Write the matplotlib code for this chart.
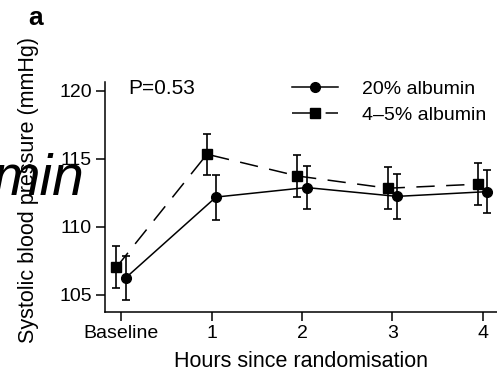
import matplotlib
matplotlib.use("Agg")
import matplotlib.pyplot as plt
from matplotlib.lines import Line2D
import numpy as np

plt.rcParams["font.family"] = ["Liberation Sans", "DejaVu Sans"]

# Time points (hours since randomisation)
hours = [0, 1, 2, 3, 4]
tick_labels = ["Baseline", "1", "2", "3", "4"]

# 20% albumin: mean and half-width of the error bars
alb20_mean = [106.25, 112.2, 112.9, 112.25, 112.6]
alb20_err = [1.6, 1.65, 1.6, 1.65, 1.6]

# 4-5% albumin
alb45_mean = [107.05, 115.35, 113.75, 112.85, 113.15]
alb45_err = [1.55, 1.5, 1.55, 1.55, 1.55]

yticks = [105, 110, 115, 120]

W, H = 497, 374
fig = plt.figure(figsize=(W / 100, H / 100), dpi=100)

# axes box in pixels: left 105, right 497, top 82, bottom 312
ax = fig.add_axes([105 / W, (H - 312) / H, (497 - 105) / W, (312 - 82) / H])

offset = 0.05
x20 = np.array(hours) + offset
x45 = np.array(hours) - offset

dashed = (0, (12, 7.5))

ax.errorbar(x45, alb45_mean, yerr=alb45_err, color="black",
            linestyle=dashed, linewidth=1.1, marker="s",
            markersize=7.5, capsize=3, elinewidth=1.2, capthick=1.2)
ax.errorbar(x20, alb20_mean, yerr=alb20_err, color="black",
            linestyle="-", linewidth=1.1, marker="o",
            markersize=7, capsize=3, elinewidth=1.2, capthick=1.2)

ax.set_xlim(-0.177, 4.155)
ax.set_ylim(103.75, 120.66)
ax.set_xticks(hours)
ax.set_xticklabels(tick_labels)
ax.set_yticks(yticks)

for side in ["top", "right"]:
    ax.spines[side].set_visible(False)
for side in ["left", "bottom"]:
    ax.spines[side].set_linewidth(1.1)

ax.tick_params(axis="both", direction="out", length=6.5, width=1.1,
               labelsize=14, pad=3)

fig.text(301 / W, 1 - 367 / H, "Hours since randomisation",
         fontsize=15.5, ha="center", va="baseline")
fig.text(29 / W, 1 - 190 / H, "Systolic blood pressure (mmHg)",
         fontsize=15.5, rotation=90, ha="center", va="center")

fig.text(128 / W, 1 - 94 / H, "P=0.53", fontsize=15, ha="left",
         va="baseline")
fig.text(28 / W, 1 - 25 / H, "a", fontsize=19, fontweight="bold",
         ha="left", va="baseline")

# legend handle: long dash under the square, then a short dash after it
handles = [
    Line2D([], [], color="black", linestyle="-", linewidth=1.1,
           marker="o", markersize=7),
    Line2D([], [], color="black", linestyle=(0, (18, 4)), linewidth=1.1,
           marker="s", markersize=7.5),
]
fig.legend(handles, ["20% albumin", "4\u20135% albumin"],
           loc="upper left", bbox_to_anchor=(292 / W, 1 - 80 / H),
           frameon=False, fontsize=14, handlelength=2.37,
           handletextpad=1.25, labelspacing=0.45, borderpad=0,
           borderaxespad=0)

# stray fragment of text overlapping the y label
fig.text(84 / W, 1 - 195 / H, "min", fontsize=41, fontstyle="italic",
         ha="right", va="baseline", zorder=10)

fig.savefig("out.png", dpi=100)
